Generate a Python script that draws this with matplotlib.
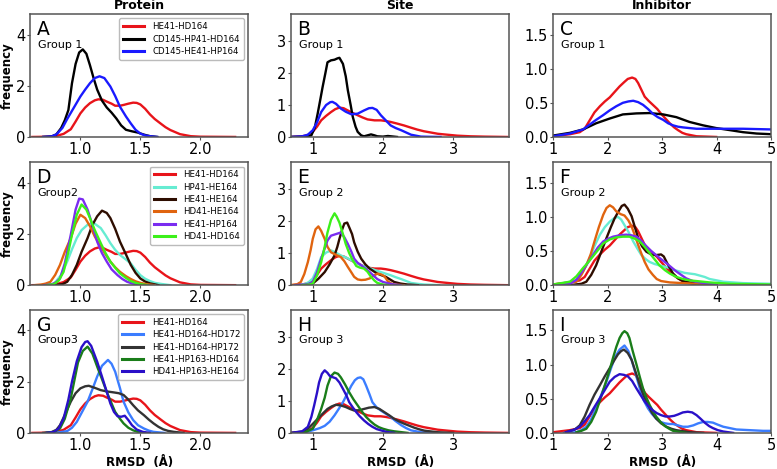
import numpy as np
import matplotlib.pyplot as plt

# ---------------- Protein column (x: RMSD, y: frequency) ----------------
prot_he41_hd164_x = [0.60, 0.75, 0.80, 0.86, 0.92, 0.96, 1.00, 1.04, 1.08, 1.12, 1.15, 1.19, 1.22, 1.26, 1.29, 1.33,
                     1.36, 1.40, 1.44, 1.47, 1.50, 1.54, 1.58, 1.62, 1.67, 1.71, 1.75, 1.83, 1.92, 2.00, 2.29]
prot_he41_hd164_y = [0, 0.01, 0.04, 0.12, 0.30, 0.60, 0.92, 1.15, 1.32, 1.43, 1.47, 1.45, 1.38, 1.30, 1.22, 1.22,
                     1.25, 1.30, 1.34, 1.33, 1.27, 1.10, 0.88, 0.70, 0.52, 0.38, 0.27, 0.11, 0.03, 0.01, 0]

prot_g1_black_x = [0.69, 0.76, 0.80, 0.84, 0.87, 0.90, 0.93, 0.96, 0.99, 1.02, 1.05, 1.08, 1.11, 1.14, 1.18, 1.22,
                   1.26, 1.30, 1.34, 1.38, 1.43, 1.48, 1.53, 1.58, 1.64]
prot_g1_black_y = [0, 0.02, 0.10, 0.35, 0.65, 1.05, 2.10, 2.85, 3.30, 3.42, 3.25, 2.80, 2.30, 1.85, 1.42, 1.15,
                   0.95, 0.72, 0.45, 0.28, 0.22, 0.17, 0.09, 0.03, 0]

prot_g1_blue_x = [0.69, 0.76, 0.80, 0.85, 0.89, 0.94, 1.00, 1.04, 1.08, 1.12, 1.16, 1.20, 1.25, 1.29, 1.33, 1.38,
                  1.42, 1.46, 1.50, 1.54, 1.58, 1.64]
prot_g1_blue_y = [0, 0.02, 0.10, 0.35, 0.70, 1.10, 1.58, 1.85, 2.10, 2.30, 2.37, 2.30, 1.97, 1.60, 1.18, 0.80,
                  0.53, 0.28, 0.13, 0.06, 0.03, 0]

prot_hp41_he164_x = [0.69, 0.78, 0.84, 0.89, 0.93, 0.97, 1.01, 1.06, 1.11, 1.17, 1.21, 1.25, 1.29, 1.33, 1.38, 1.42,
                     1.46, 1.50, 1.54, 1.58, 1.62, 1.67, 1.75]
prot_hp41_he164_y = [0, 0.05, 0.40, 0.92, 1.40, 1.84, 2.15, 2.36, 2.43, 2.23, 1.95, 1.64, 1.38, 1.18, 1.00, 0.85,
                     0.60, 0.39, 0.25, 0.16, 0.09, 0.05, 0]

prot_he41_he164_x = [0.78, 0.85, 0.89, 0.93, 0.97, 1.01, 1.06, 1.10, 1.14, 1.18, 1.22, 1.25, 1.29, 1.33, 1.38, 1.42,
                     1.46, 1.50, 1.54, 1.58, 1.65]
prot_he41_he164_y = [0, 0.04, 0.13, 0.40, 0.79, 1.30, 1.84, 2.35, 2.69, 2.91, 2.82, 2.62, 2.20, 1.70, 1.20, 0.79,
                     0.48, 0.26, 0.14, 0.07, 0]

prot_hd41_he164_x = [0.62, 0.67, 0.71, 0.75, 0.79, 0.83, 0.87, 0.92, 0.96, 1.00, 1.04, 1.08, 1.12, 1.17, 1.21, 1.25,
                     1.29, 1.33, 1.38, 1.42, 1.46, 1.50, 1.55, 1.62]
prot_hd41_he164_y = [0, 0.02, 0.06, 0.13, 0.40, 0.79, 1.30, 1.84, 2.40, 2.75, 2.62, 2.30, 1.90, 1.50, 1.20, 0.92,
                     0.70, 0.52, 0.35, 0.24, 0.15, 0.09, 0.04, 0]

prot_he41_hp164_x = [0.70, 0.76, 0.80, 0.83, 0.87, 0.92, 0.96, 0.99, 1.02, 1.06, 1.10, 1.14, 1.18, 1.22, 1.26, 1.31,
                     1.35, 1.39, 1.43, 1.47, 1.52]
prot_he41_hp164_y = [0, 0.03, 0.12, 0.26, 0.85, 1.97, 2.95, 3.38, 3.35, 2.95, 2.35, 1.70, 1.25, 0.92, 0.62, 0.39,
                     0.24, 0.13, 0.07, 0.03, 0]

prot_hd41_hd164_x = [0.72, 0.78, 0.82, 0.86, 0.90, 0.93, 0.97, 1.01, 1.05, 1.08, 1.12, 1.17, 1.21, 1.25, 1.29, 1.33,
                     1.38, 1.42, 1.46, 1.50, 1.56]
prot_hd41_hd164_y = [0, 0.04, 0.18, 0.52, 1.30, 1.97, 2.75, 3.15, 2.95, 2.62, 2.15, 1.64, 1.25, 0.92, 0.68, 0.46,
                     0.28, 0.16, 0.09, 0.04, 0]

prot_hd172_x = [0.72, 0.82, 0.89, 0.93, 0.97, 1.01, 1.06, 1.10, 1.14, 1.18, 1.23, 1.26, 1.29, 1.33, 1.36, 1.40,
                1.44, 1.48, 1.53, 1.57, 1.61, 1.70]
prot_hd172_y = [0, 0.02, 0.07, 0.20, 0.43, 0.78, 1.22, 1.70, 2.20, 2.62, 2.85, 2.70, 2.39, 1.75, 1.22, 0.80,
                0.50, 0.30, 0.17, 0.09, 0.04, 0]

prot_hp172_x = [0.69, 0.76, 0.80, 0.83, 0.87, 0.92, 0.96, 1.00, 1.04, 1.07, 1.12, 1.17, 1.22, 1.28, 1.32, 1.36,
                1.40, 1.44, 1.48, 1.53, 1.57, 1.61, 1.65, 1.69, 1.73, 1.78, 1.86]
prot_hp172_y = [0, 0.03, 0.12, 0.30, 0.70, 1.22, 1.55, 1.74, 1.82, 1.84, 1.76, 1.67, 1.62, 1.58, 1.55, 1.48,
                1.30, 1.08, 0.88, 0.69, 0.52, 0.37, 0.24, 0.14, 0.08, 0.04, 0]

prot_hp163_hd164_x = [0.72, 0.78, 0.83, 0.87, 0.92, 0.95, 0.98, 1.02, 1.06, 1.10, 1.14, 1.18, 1.22, 1.26, 1.29, 1.33,
                      1.36, 1.40, 1.44, 1.48, 1.53]
prot_hp163_hd164_y = [0, 0.04, 0.17, 0.55, 1.35, 2.05, 2.75, 3.20, 3.37, 3.10, 2.59, 2.10, 1.60, 1.15, 0.82, 0.55,
                      0.37, 0.20, 0.10, 0.04, 0]

prot_hp163_he164_x = [0.72, 0.78, 0.82, 0.86, 0.90, 0.93, 0.97, 1.01, 1.04, 1.06, 1.09, 1.14, 1.18, 1.22, 1.25, 1.28,
                      1.31, 1.34, 1.37, 1.40, 1.43, 1.47, 1.52, 1.58]
prot_hp163_he164_y = [0, 0.04, 0.18, 0.56, 1.30, 2.00, 2.80, 3.35, 3.55, 3.58, 3.40, 2.78, 2.20, 1.60, 1.15, 0.82,
                      0.65, 0.63, 0.67, 0.50, 0.30, 0.13, 0.04, 0]

# ---------------- Site column ----------------
site_he41_hd164_x = [0.69, 0.85, 0.93, 1.00, 1.06, 1.12, 1.19, 1.26, 1.32, 1.38, 1.44, 1.50, 1.57, 1.64, 1.71, 1.78,
                     1.88, 1.97, 2.04, 2.11, 2.20, 2.30, 2.40, 2.49, 2.58, 2.68, 2.78, 2.87, 3.06, 3.25, 3.45, 3.77]
site_he41_hd164_y = [0, 0.02, 0.06, 0.16, 0.32, 0.52, 0.66, 0.78, 0.87, 0.92, 0.90, 0.83, 0.75, 0.68, 0.61, 0.55,
                     0.52, 0.52, 0.50, 0.47, 0.42, 0.36, 0.29, 0.23, 0.18, 0.14, 0.10, 0.08, 0.04, 0.02, 0.01, 0]

site_g1_black_x = [0.69, 0.90, 0.98, 1.03, 1.07, 1.11, 1.14, 1.18, 1.21, 1.26, 1.31, 1.35, 1.38, 1.43, 1.47, 1.50,
                   1.54, 1.57, 1.61, 1.64, 1.69, 1.73, 1.78, 1.83, 1.88, 1.92, 2.00, 2.07, 2.20]
site_g1_black_y = [0, 0.01, 0.05, 0.30, 0.73, 1.20, 1.56, 2.00, 2.34, 2.40, 2.42, 2.46, 2.48, 2.29, 1.90, 1.46,
                   1.00, 0.63, 0.32, 0.16, 0.05, 0.02, 0.05, 0.08, 0.05, 0.02, 0.01, 0.03, 0]

site_g1_blue_x = [0.69, 0.85, 0.93, 1.00, 1.06, 1.12, 1.19, 1.25, 1.28, 1.33, 1.40, 1.47, 1.55, 1.64, 1.73, 1.80,
                  1.85, 1.91, 1.97, 2.04, 2.11, 2.18, 2.26, 2.33, 2.40, 2.47, 2.54, 2.65, 2.82]
site_g1_blue_y = [0, 0.02, 0.07, 0.21, 0.45, 0.78, 1.00, 1.09, 1.10, 1.04, 0.89, 0.79, 0.71, 0.73, 0.83, 0.90,
                  0.91, 0.85, 0.68, 0.52, 0.36, 0.28, 0.21, 0.14, 0.07, 0.04, 0.01, 0.005, 0]

site_hp41_he164_x = [0.75, 0.88, 0.94, 1.00, 1.06, 1.12, 1.19, 1.26, 1.33, 1.40, 1.48, 1.55, 1.62, 1.69, 1.76, 1.83,
                     1.90, 1.97, 2.04, 2.11, 2.18, 2.26, 2.33, 2.40, 2.50, 2.59, 2.80]
site_hp41_he164_y = [0, 0.03, 0.09, 0.21, 0.50, 0.88, 1.02, 1.09, 1.02, 0.93, 0.86, 0.78, 0.70, 0.62, 0.57, 0.52,
                     0.46, 0.41, 0.36, 0.31, 0.25, 0.19, 0.13, 0.07, 0.04, 0.02, 0]

site_he41_he164_x = [0.90, 1.00, 1.08, 1.17, 1.24, 1.31, 1.35, 1.38, 1.42, 1.45, 1.49, 1.52, 1.56, 1.59, 1.64, 1.69,
                     1.75, 1.81, 1.87, 1.92, 1.98, 2.04, 2.10, 2.16, 2.25, 2.35, 2.50]
site_he41_he164_y = [0, 0.05, 0.20, 0.41, 0.65, 0.93, 1.20, 1.45, 1.75, 1.93, 1.96, 1.81, 1.60, 1.34, 1.05, 0.83,
                     0.65, 0.52, 0.43, 0.36, 0.31, 0.26, 0.18, 0.10, 0.05, 0.02, 0]

site_hd41_he164_x = [0.69, 0.78, 0.83, 0.88, 0.93, 0.97, 1.00, 1.04, 1.08, 1.12, 1.17, 1.21, 1.26, 1.33, 1.40, 1.45,
                     1.50, 1.55, 1.59, 1.64, 1.69, 1.75, 1.81, 1.87, 1.92, 1.97, 2.02, 2.07, 2.12, 2.16, 2.30]
site_hd41_he164_y = [0, 0.03, 0.10, 0.35, 0.72, 1.10, 1.45, 1.75, 1.84, 1.70, 1.45, 1.20, 1.03, 0.95, 0.88, 0.75,
                     0.57, 0.40, 0.26, 0.18, 0.16, 0.17, 0.21, 0.30, 0.36, 0.34, 0.28, 0.12, 0.05, 0.02, 0]

site_he41_hp164_x = [0.75, 0.88, 0.94, 1.00, 1.06, 1.12, 1.17, 1.21, 1.26, 1.33, 1.40, 1.45, 1.50, 1.55, 1.59, 1.64,
                     1.69, 1.75, 1.81, 1.87, 1.92, 2.00, 2.07, 2.15, 2.25]
site_he41_hp164_y = [0, 0.02, 0.04, 0.10, 0.40, 0.83, 1.15, 1.40, 1.55, 1.60, 1.65, 1.50, 1.29, 1.05, 0.83, 0.70,
                     0.62, 0.52, 0.41, 0.29, 0.19, 0.10, 0.06, 0.02, 0]

site_hd41_hd164_x = [0.85, 0.95, 1.00, 1.06, 1.12, 1.17, 1.21, 1.26, 1.31, 1.34, 1.38, 1.43, 1.47, 1.52, 1.57, 1.62,
                     1.67, 1.73, 1.78, 1.83, 1.88, 1.92, 2.00, 2.07]
site_hd41_hd164_y = [0, 0.02, 0.05, 0.30, 0.72, 1.20, 1.65, 2.05, 2.25, 2.15, 1.96, 1.60, 1.29, 1.00, 0.78, 0.60,
                     0.55, 0.52, 0.42, 0.26, 0.14, 0.07, 0.02, 0]

site_hd172_x = [0.75, 0.90, 1.00, 1.10, 1.17, 1.24, 1.31, 1.37, 1.43, 1.49, 1.55, 1.60, 1.64, 1.68, 1.72, 1.76,
                1.81, 1.85, 1.91, 1.97, 2.04, 2.11, 2.18, 2.26, 2.33, 2.40, 2.54, 2.80]
site_hd172_y = [0, 0.03, 0.08, 0.15, 0.22, 0.35, 0.55, 0.75, 0.96, 1.22, 1.48, 1.65, 1.72, 1.74, 1.68, 1.48,
                1.20, 0.96, 0.80, 0.70, 0.60, 0.50, 0.37, 0.24, 0.15, 0.08, 0.02, 0]

site_hp172_x = [0.69, 0.85, 0.93, 1.00, 1.07, 1.14, 1.21, 1.27, 1.33, 1.40, 1.47, 1.53, 1.59, 1.66, 1.73, 1.80,
                1.88, 1.95, 2.02, 2.09, 2.16, 2.23, 2.30, 2.38, 2.45, 2.52, 2.59, 2.78, 3.00]
site_hp172_y = [0, 0.04, 0.13, 0.28, 0.44, 0.60, 0.75, 0.83, 0.88, 0.86, 0.81, 0.75, 0.70, 0.71, 0.75, 0.79,
                0.81, 0.75, 0.65, 0.55, 0.44, 0.36, 0.29, 0.22, 0.16, 0.11, 0.07, 0.02, 0]

site_hp163_hd164_x = [0.75, 0.90, 1.00, 1.06, 1.12, 1.17, 1.21, 1.26, 1.31, 1.36, 1.40, 1.46, 1.52, 1.58, 1.64, 1.70,
                      1.76, 1.82, 1.88, 1.94, 2.00, 2.08, 2.16, 2.35]
site_hp163_hd164_y = [0, 0.03, 0.13, 0.40, 0.75, 1.10, 1.48, 1.78, 1.89, 1.85, 1.74, 1.52, 1.27, 1.05, 0.86, 0.67,
                      0.50, 0.37, 0.26, 0.18, 0.13, 0.08, 0.05, 0]

site_hp163_he164_x = [0.69, 0.85, 0.93, 0.98, 1.02, 1.06, 1.09, 1.13, 1.17, 1.21, 1.24, 1.29, 1.33, 1.38, 1.43, 1.48,
                      1.52, 1.57, 1.62, 1.67, 1.73, 1.79, 1.85, 1.91, 1.97, 2.05, 2.16]
site_hp163_he164_y = [0, 0.05, 0.19, 0.50, 0.86, 1.25, 1.58, 1.85, 1.96, 1.88, 1.79, 1.74, 1.71, 1.58, 1.38, 1.17,
                      0.96, 0.80, 0.65, 0.52, 0.39, 0.28, 0.19, 0.12, 0.08, 0.03, 0]

# ---------------- Inhibitor column ----------------
inh_he41_hd164_x = [1.0, 1.31, 1.49, 1.58, 1.67, 1.76, 1.86, 1.95, 2.04, 2.13, 2.22, 2.30, 2.37, 2.45, 2.51, 2.56,
                    2.62, 2.68, 2.75, 2.83, 2.91, 2.98, 3.06, 3.14, 3.22, 3.29, 3.37, 3.44, 3.63, 3.99]
inh_he41_hd164_y = [0.01, 0.04, 0.07, 0.12, 0.24, 0.36, 0.45, 0.52, 0.58, 0.66, 0.74, 0.80, 0.85, 0.87, 0.85, 0.79,
                    0.69, 0.59, 0.53, 0.47, 0.41, 0.34, 0.27, 0.20, 0.14, 0.10, 0.06, 0.04, 0.01, 0]

inh_g1_black_x = [1.0, 1.31, 1.55, 1.79, 2.04, 2.28, 2.53, 2.77, 3.02, 3.26, 3.50, 3.75, 3.99, 4.24, 4.48, 4.73, 5.0]
inh_g1_black_y = [0.02, 0.06, 0.11, 0.20, 0.27, 0.33, 0.345, 0.35, 0.33, 0.29, 0.22, 0.17, 0.13, 0.10, 0.07, 0.05, 0.04]

inh_g1_blue_x = [1.0, 1.31, 1.55, 1.79, 1.92, 2.04, 2.16, 2.28, 2.38, 2.47, 2.56, 2.65, 2.74, 2.83, 2.92, 3.02,
                 3.11, 3.20, 3.29, 3.38, 3.50, 3.63, 3.99, 4.48, 5.0]
inh_g1_blue_y = [0.01, 0.05, 0.11, 0.25, 0.32, 0.39, 0.45, 0.50, 0.52, 0.53, 0.51, 0.47, 0.41, 0.34, 0.29, 0.25,
                 0.20, 0.17, 0.15, 0.14, 0.13, 0.12, 0.12, 0.12, 0.11]

inh_hp41_he164_x = [1.0, 1.43, 1.55, 1.67, 1.76, 1.86, 1.95, 2.04, 2.12, 2.19, 2.25, 2.31, 2.39, 2.47, 2.55, 2.62,
                    2.70, 2.77, 2.86, 2.95, 3.05, 3.14, 3.23, 3.32, 3.41, 3.50, 3.60, 3.69, 3.78, 3.87, 4.00, 4.12,
                    4.48, 5.0]
inh_hp41_he164_y = [0, 0.07, 0.20, 0.39, 0.57, 0.74, 0.85, 0.93, 0.98, 1.00, 0.96, 0.88, 0.77, 0.64, 0.53, 0.44,
                    0.38, 0.34, 0.31, 0.29, 0.27, 0.25, 0.22, 0.20, 0.18, 0.17, 0.16, 0.14, 0.12, 0.09, 0.07, 0.05,
                    0.03, 0.02]

inh_he41_he164_x = [1.31, 1.52, 1.61, 1.70, 1.79, 1.88, 1.98, 2.06, 2.13, 2.20, 2.26, 2.31, 2.37, 2.44, 2.50, 2.56,
                    2.63, 2.71, 2.80, 2.89, 2.98, 3.03, 3.08, 3.14, 3.20, 3.29, 3.38, 3.50, 3.63, 3.99]
inh_he41_he164_y = [0, 0.02, 0.05, 0.15, 0.29, 0.48, 0.69, 0.85, 0.98, 1.08, 1.16, 1.18, 1.12, 1.01, 0.85, 0.69,
                    0.57, 0.49, 0.45, 0.44, 0.45, 0.42, 0.34, 0.25, 0.17, 0.10, 0.06, 0.04, 0.02, 0]

inh_hd41_he164_x = [1.0, 1.43, 1.52, 1.61, 1.69, 1.76, 1.84, 1.92, 1.98, 2.04, 2.10, 2.16, 2.24, 2.31, 2.38, 2.44,
                    2.50, 2.56, 2.62, 2.68, 2.75, 2.83, 2.90, 2.98, 3.14, 3.38, 3.63, 3.99]
inh_hd41_he164_y = [0.01, 0.05, 0.15, 0.29, 0.45, 0.64, 0.85, 1.03, 1.13, 1.17, 1.14, 1.08, 1.04, 1.02, 0.95, 0.86,
                    0.73, 0.59, 0.46, 0.34, 0.23, 0.15, 0.09, 0.06, 0.04, 0.03, 0.02, 0]

inh_he41_hp164_x = [1.0, 1.31, 1.43, 1.55, 1.64, 1.73, 1.82, 1.92, 2.01, 2.10, 2.22, 2.34, 2.44, 2.53, 2.62, 2.71,
                    2.80, 2.89, 2.98, 3.08, 3.17, 3.26, 3.35, 3.44, 3.56, 3.69, 3.99]
inh_he41_hp164_y = [0, 0.02, 0.08, 0.22, 0.33, 0.44, 0.55, 0.64, 0.68, 0.71, 0.73, 0.74, 0.73, 0.71, 0.65, 0.57,
                    0.50, 0.44, 0.38, 0.32, 0.26, 0.20, 0.15, 0.10, 0.06, 0.04, 0.01]

inh_hd41_hd164_x = [1.0, 1.31, 1.43, 1.55, 1.64, 1.73, 1.82, 1.92, 2.04, 2.16, 2.28, 2.40, 2.50, 2.59, 2.68, 2.77,
                    2.86, 2.95, 3.05, 3.14, 3.26, 3.38, 3.50, 3.63, 3.87, 4.24, 5.0]
inh_hd41_hd164_y = [0.01, 0.05, 0.13, 0.25, 0.33, 0.42, 0.51, 0.61, 0.67, 0.70, 0.71, 0.71, 0.68, 0.64, 0.56, 0.47,
                    0.38, 0.29, 0.22, 0.17, 0.12, 0.09, 0.07, 0.06, 0.04, 0.02, 0.01]

inh_hd172_x = [1.2, 1.43, 1.52, 1.61, 1.70, 1.79, 1.88, 1.98, 2.06, 2.13, 2.22, 2.31, 2.38, 2.44, 2.52, 2.59,
               2.66, 2.74, 2.81, 2.89, 2.97, 3.05, 3.13, 3.20, 3.29, 3.38, 3.47, 3.57, 3.66, 3.75, 3.84, 3.93,
               4.02, 4.12, 4.24, 4.36, 4.60, 4.85, 5.0]
inh_hd172_y = [0, 0.01, 0.04, 0.09, 0.20, 0.36, 0.55, 0.75, 0.94, 1.10, 1.22, 1.28, 1.20, 1.07, 0.85, 0.65,
               0.48, 0.36, 0.28, 0.21, 0.16, 0.14, 0.13, 0.13, 0.11, 0.09, 0.09, 0.11, 0.14, 0.16, 0.16, 0.15,
               0.12, 0.09, 0.07, 0.05, 0.04, 0.03, 0.03]

inh_hp172_x = [1.24, 1.40, 1.49, 1.58, 1.67, 1.76, 1.86, 1.95, 2.04, 2.12, 2.19, 2.25, 2.30, 2.37, 2.44, 2.51,
               2.59, 2.66, 2.74, 2.81, 2.89, 2.98, 3.08, 3.17, 3.26, 3.50, 3.75]
inh_hp172_y = [0.01, 0.05, 0.11, 0.24, 0.41, 0.56, 0.70, 0.83, 0.95, 1.06, 1.15, 1.20, 1.22, 1.17, 1.07, 0.90,
               0.70, 0.55, 0.41, 0.30, 0.21, 0.14, 0.09, 0.06, 0.04, 0.01, 0]

inh_hp163_hd164_x = [1.43, 1.52, 1.61, 1.70, 1.79, 1.87, 1.95, 2.03, 2.10, 2.16, 2.22, 2.27, 2.31, 2.36, 2.40, 2.46,
                     2.53, 2.59, 2.65, 2.71, 2.77, 2.83, 2.89, 2.97, 3.05, 3.13, 3.20, 3.44]
inh_hp163_hd164_y = [0.01, 0.03, 0.06, 0.16, 0.31, 0.50, 0.70, 0.90, 1.10, 1.26, 1.39, 1.46, 1.49, 1.46, 1.39, 1.20,
                     1.00, 0.82, 0.65, 0.52, 0.41, 0.32, 0.24, 0.16, 0.10, 0.06, 0.03, 0]

inh_hp163_he164_x = [1.24, 1.40, 1.49, 1.58, 1.67, 1.76, 1.86, 1.95, 2.04, 2.13, 2.22, 2.30, 2.37, 2.45, 2.53, 2.60,
                     2.68, 2.75, 2.83, 2.90, 2.98, 3.06, 3.14, 3.22, 3.29, 3.38, 3.47, 3.55, 3.63, 3.70, 3.78, 3.86,
                     3.93, 4.02, 4.12, 4.30]
inh_hp163_he164_y = [0.01, 0.05, 0.09, 0.17, 0.26, 0.38, 0.51, 0.63, 0.75, 0.82, 0.86, 0.85, 0.83, 0.76, 0.65, 0.56,
                     0.46, 0.39, 0.33, 0.29, 0.26, 0.24, 0.24, 0.25, 0.27, 0.30, 0.31, 0.30, 0.26, 0.21, 0.15, 0.10,
                     0.07, 0.04, 0.02, 0]

# labels / colours
g1_labels = ["HE41-HD164", "CD145-HP41-HD164", "CD145-HE41-HP164"]
g2_labels = ["HE41-HD164", "HP41-HE164", "HE41-HE164", "HD41-HE164", "HE41-HP164", "HD41-HD164"]
g3_labels = ["HE41-HD164", "HE41-HD164-HD172", "HE41-HD164-HP172", "HE41-HP163-HD164", "HD41-HP163-HE164"]
g1_colors = ["#e8141a", "#000000", "#1a1aff"]
g2_colors = ["#e8141a", "#66ecd2", "#2e0d00", "#e0640f", "#7a2cf0", "#3cf01a"]
g3_colors = ["#e8141a", "#3b7dff", "#333333", "#1a7d1a", "#2a10c8"]

col_titles = ["Protein", "Site", "Inhibitor"]
panel_letters = ["A", "B", "C", "D", "E", "F", "G", "H", "I"]
group_texts = [["Group 1", "Group 1", "Group 1"],
               ["Group2", "Group 2", "Group 2"],
               ["Group3", "Group 3", "Group 3"]]

curves = [
    [  # row 1
        [(prot_he41_hd164_x, prot_he41_hd164_y), (prot_g1_black_x, prot_g1_black_y), (prot_g1_blue_x, prot_g1_blue_y)],
        [(site_he41_hd164_x, site_he41_hd164_y), (site_g1_black_x, site_g1_black_y), (site_g1_blue_x, site_g1_blue_y)],
        [(inh_he41_hd164_x, inh_he41_hd164_y), (inh_g1_black_x, inh_g1_black_y), (inh_g1_blue_x, inh_g1_blue_y)],
    ],
    [  # row 2
        [(prot_he41_hd164_x, prot_he41_hd164_y), (prot_hp41_he164_x, prot_hp41_he164_y),
         (prot_he41_he164_x, prot_he41_he164_y), (prot_hd41_he164_x, prot_hd41_he164_y),
         (prot_he41_hp164_x, prot_he41_hp164_y), (prot_hd41_hd164_x, prot_hd41_hd164_y)],
        [(site_he41_hd164_x, site_he41_hd164_y), (site_hp41_he164_x, site_hp41_he164_y),
         (site_he41_he164_x, site_he41_he164_y), (site_hd41_he164_x, site_hd41_he164_y),
         (site_he41_hp164_x, site_he41_hp164_y), (site_hd41_hd164_x, site_hd41_hd164_y)],
        [(inh_he41_hd164_x, inh_he41_hd164_y), (inh_hp41_he164_x, inh_hp41_he164_y),
         (inh_he41_he164_x, inh_he41_he164_y), (inh_hd41_he164_x, inh_hd41_he164_y),
         (inh_he41_hp164_x, inh_he41_hp164_y), (inh_hd41_hd164_x, inh_hd41_hd164_y)],
    ],
    [  # row 3
        [(prot_he41_hd164_x, prot_he41_hd164_y), (prot_hd172_x, prot_hd172_y), (prot_hp172_x, prot_hp172_y),
         (prot_hp163_hd164_x, prot_hp163_hd164_y), (prot_hp163_he164_x, prot_hp163_he164_y)],
        [(site_he41_hd164_x, site_he41_hd164_y), (site_hd172_x, site_hd172_y), (site_hp172_x, site_hp172_y),
         (site_hp163_hd164_x, site_hp163_hd164_y), (site_hp163_he164_x, site_hp163_he164_y)],
        [(inh_he41_hd164_x, inh_he41_hd164_y), (inh_hd172_x, inh_hd172_y), (inh_hp172_x, inh_hp172_y),
         (inh_hp163_hd164_x, inh_hp163_hd164_y), (inh_hp163_he164_x, inh_hp163_he164_y)],
    ],
]
row_labels = [g1_labels, g2_labels, g3_labels]
row_colors = [g1_colors, g2_colors, g3_colors]

xlims = [(0.58, 2.40), (0.69, 3.80), (1.0, 5.0)]
ylims = [(0, 4.8), (0, 3.85), (0, 1.8)]
xticks = [[1.0, 1.5, 2.0], [1, 2, 3], [1, 2, 3, 4, 5]]
yticks = [[0, 2, 4], [0, 1, 2, 3], [0.0, 0.5, 1.0, 1.5]]
xfmt = ["{:.1f}", "{:d}", "{:d}"]
yfmt = ["{:d}", "{:d}", "{:.1f}"]

fig = plt.figure(figsize=(7.77, 4.69), dpi=100)
lefts = [0.0386, 0.3745, 0.7117]
bottoms = [0.708, 0.392, 0.077]
w, h = 0.281, 0.262
spine_col = "#555555"

for r in range(3):
    for c in range(3):
        ax = fig.add_axes([lefts[c], bottoms[r], w, h])
        for (xs, ys), lab, col in zip(curves[r][c], row_labels[r], row_colors[r]):
            ax.plot(xs, ys, color=col, lw=1.7, label=lab)
        ax.set_xlim(*xlims[c])
        ax.set_ylim(*ylims[c])
        ax.set_xticks(xticks[c])
        ax.set_xticklabels([xfmt[c].format(v) for v in xticks[c]])
        ax.set_yticks(yticks[c])
        ax.set_yticklabels([yfmt[c].format(v) for v in yticks[c]])
        ax.tick_params(labelsize=10.5, length=2, color=spine_col, pad=1.5)
        for s in ax.spines.values():
            s.set_color(spine_col)
            s.set_linewidth(1.1)
        ax.text(0.03, 0.955, panel_letters[r * 3 + c], transform=ax.transAxes,
                fontsize=13.5, va="top", ha="left")
        ax.text(0.035, 0.752, group_texts[r][c], transform=ax.transAxes,
                fontsize=8, va="center", ha="left")
        if r == 0:
            ax.set_title(col_titles[c], fontsize=9, fontweight="bold", pad=3.5)
        if c == 0:
            ax.set_ylabel("frequency", fontsize=8.5, fontweight="bold", labelpad=1.5)
            leg = ax.legend(loc="upper right", fontsize=6.2, labelspacing=0.38, handlelength=2.4,
                            borderpad=0.45, borderaxespad=0.5, handletextpad=1.0)
            leg.get_frame().set_edgecolor("#aaaaaa")
            for ln in leg.get_lines():
                ln.set_linewidth(2.2)
        if r == 2:
            ax.set_xlabel("RMSD  (Å)", fontsize=8.5, fontweight="bold", labelpad=2)

fig.savefig("out.png", dpi=100)
